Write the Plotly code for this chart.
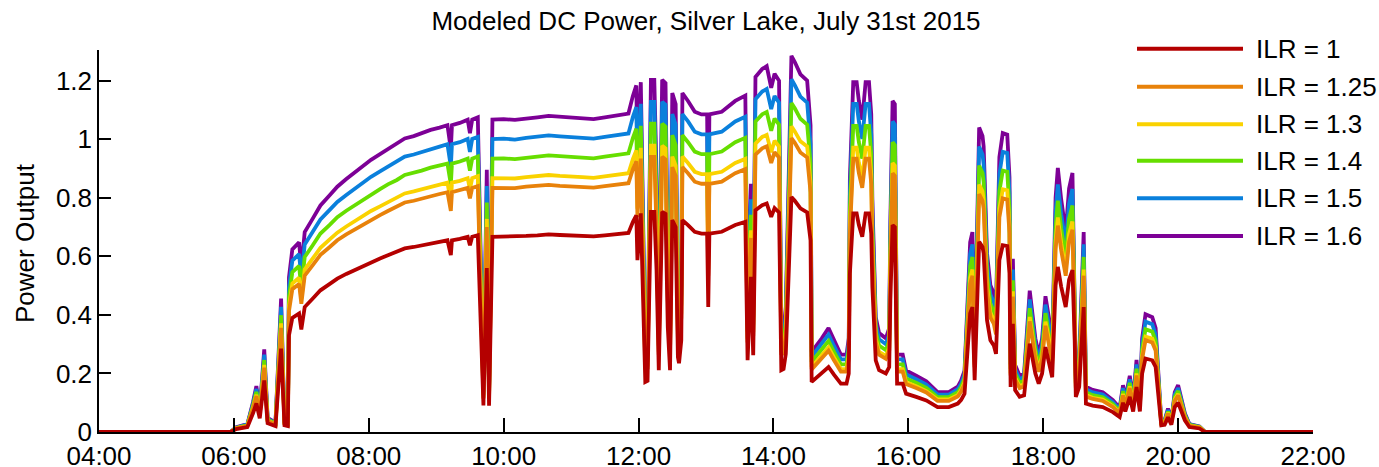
import pandas as pd
import plotly.graph_objects as go

times = [
    "04:00", "05:57", "06:02", "06:12", "06:17", "06:20", "06:23", "06:27", "06:30", "06:37",
    "06:42", "06:45", "06:48", "06:49", "06:52", "06:58", "07:00", "07:03", "07:10", "07:17",
    "07:25", "07:32", "07:40", "07:47", "07:55", "08:02", "08:10", "08:17", "08:25", "08:32",
    "08:40", "08:47", "08:55", "09:03", "09:10", "09:13", "09:14", "09:21", "09:28", "09:30",
    "09:32", "09:37", "09:42", "09:45", "09:47", "09:50", "10:00", "10:10", "10:20", "10:30",
    "10:40", "10:50", "11:00", "11:10", "11:20", "11:30", "11:40", "11:51", "11:55", "11:58",
    "11:59", "12:02", "12:06", "12:08", "12:11", "12:14", "12:16", "12:18", "12:21", "12:24",
    "12:26", "12:28", "12:30", "12:33", "12:35", "12:36", "12:38", "12:39", "12:44", "12:50",
    "12:56", "13:01", "13:02", "13:03", "13:14", "13:26", "13:35", "13:37", "13:40", "13:42",
    "13:44", "13:50", "13:54", "13:58", "14:01", "14:05", "14:07", "14:09", "14:11", "14:14",
    "14:16", "14:19", "14:24", "14:30", "14:33", "14:34", "14:38", "14:43", "14:49", "14:54",
    "15:00", "15:05", "15:07", "15:08", "15:11", "15:14", "15:16", "15:19", "15:22", "15:25",
    "15:27", "15:28", "15:31", "15:34", "15:40", "15:43", "15:44", "15:46", "15:48", "15:49",
    "15:50", "15:55", "15:58", "16:07", "16:16", "16:26", "16:36", "16:44", "16:47", "16:50",
    "16:53", "16:55", "16:57", "16:59", "17:03", "17:06", "17:07", "17:10", "17:13", "17:16",
    "17:18", "17:21", "17:24", "17:28", "17:30", "17:31", "17:33", "17:35", "17:39", "17:43",
    "17:48", "17:50", "17:53", "17:56", "17:59", "18:02", "18:05", "18:08", "18:11", "18:13",
    "18:16", "18:20", "18:23", "18:26", "18:28", "18:29", "18:32", "18:34", "18:36", "18:38",
    "18:44", "18:53", "19:02", "19:08", "19:11", "19:13", "19:17", "19:20", "19:23", "19:26",
    "19:28", "19:31", "19:37", "19:40", "19:43", "19:45", "19:48", "19:51", "19:54", "19:57",
    "20:00", "20:03", "20:06", "20:10", "20:19", "20:24", "22:00",
]

ilr_100 = [
    0, 0, 0.01, 0.017, 0.064, 0.098, 0.047, 0.176, 0.03, 0.02,
    0.285, 0.023, 0.02, 0.33, 0.39, 0.405, 0.35, 0.427, 0.455, 0.484,
    0.505, 0.524, 0.54, 0.553, 0.568, 0.581, 0.593, 0.604, 0.615, 0.627,
    0.632, 0.638, 0.645, 0.65, 0.655, 0.604, 0.655, 0.66, 0.667, 0.638,
    0.667, 0.672, 0.091, 0.56, 0.09, 0.667, 0.668, 0.666, 0.67, 0.672,
    0.675, 0.673, 0.672, 0.67, 0.668, 0.672, 0.675, 0.68, 0.718, 0.74,
    0.587, 0.747, 0.171, 0.175, 0.752, 0.752, 0.553, 0.211, 0.752, 0.745,
    0.359, 0.211, 0.724, 0.70, 0.256, 0.235, 0.313, 0.724, 0.707, 0.684,
    0.678, 0.678, 0.427, 0.678, 0.684, 0.707, 0.718, 0.245, 0.53, 0.262,
    0.758, 0.775, 0.781, 0.735, 0.765, 0.75, 0.211, 0.215, 0.267, 0.543,
    0.803, 0.79, 0.764, 0.75, 0.655, 0.171, 0.184, 0.2, 0.222, 0.195,
    0.165, 0.165, 0.2, 0.541, 0.747, 0.747, 0.707, 0.667, 0.747, 0.747,
    0.678, 0.496, 0.245, 0.211, 0.2, 0.222, 0.45, 0.707, 0.70, 0.43,
    0.165, 0.165, 0.131, 0.12, 0.108, 0.085, 0.085, 0.097, 0.11, 0.131,
    0.313, 0.405, 0.427, 0.177, 0.65, 0.632, 0.61, 0.382, 0.313, 0.296,
    0.267, 0.587, 0.638, 0.635, 0.543, 0.154, 0.37, 0.143, 0.12, 0.125,
    0.302, 0.255, 0.2, 0.165, 0.2, 0.29, 0.245, 0.187, 0.5, 0.564,
    0.496, 0.427, 0.52, 0.553, 0.313, 0.12, 0.154, 0.29, 0.427, 0.097,
    0.09, 0.085, 0.068, 0.051, 0.1, 0.07, 0.12, 0.07, 0.154, 0.07,
    0.2, 0.251, 0.245, 0.222, 0.085, 0.023, 0.025, 0.05, 0.025, 0.085,
    0.1, 0.07, 0.04, 0.017, 0.012, 0, 0,
]

ilr_125 = [
    0, 0, 0.013, 0.021, 0.08, 0.123, 0.059, 0.22, 0.038, 0.025,
    0.356, 0.029, 0.025, 0.413, 0.488, 0.506, 0.438, 0.534, 0.569, 0.605,
    0.631, 0.655, 0.675, 0.691, 0.71, 0.726, 0.741, 0.755, 0.769, 0.784,
    0.79, 0.798, 0.806, 0.813, 0.819, 0.755, 0.819, 0.825, 0.834, 0.798,
    0.834, 0.84, 0.114, 0.7, 0.113, 0.834, 0.835, 0.833, 0.838, 0.84,
    0.844, 0.841, 0.84, 0.838, 0.835, 0.84, 0.844, 0.85, 0.898, 0.925,
    0.734, 0.934, 0.214, 0.219, 0.94, 0.94, 0.691, 0.264, 0.94, 0.931,
    0.449, 0.264, 0.905, 0.875, 0.32, 0.294, 0.391, 0.905, 0.884, 0.855,
    0.848, 0.848, 0.534, 0.848, 0.855, 0.884, 0.898, 0.306, 0.663, 0.328,
    0.948, 0.969, 0.976, 0.919, 0.956, 0.938, 0.264, 0.269, 0.334, 0.679,
    1.004, 0.988, 0.955, 0.938, 0.819, 0.214, 0.23, 0.25, 0.278, 0.244,
    0.206, 0.206, 0.25, 0.676, 0.934, 0.934, 0.884, 0.834, 0.934, 0.934,
    0.848, 0.62, 0.306, 0.264, 0.25, 0.278, 0.563, 0.884, 0.875, 0.538,
    0.206, 0.206, 0.164, 0.15, 0.135, 0.106, 0.106, 0.121, 0.138, 0.164,
    0.391, 0.506, 0.534, 0.221, 0.813, 0.79, 0.763, 0.478, 0.391, 0.37,
    0.334, 0.734, 0.798, 0.794, 0.679, 0.193, 0.463, 0.179, 0.15, 0.156,
    0.378, 0.319, 0.25, 0.206, 0.25, 0.363, 0.306, 0.234, 0.625, 0.705,
    0.62, 0.534, 0.65, 0.691, 0.391, 0.15, 0.193, 0.363, 0.534, 0.121,
    0.113, 0.106, 0.085, 0.064, 0.125, 0.088, 0.15, 0.088, 0.193, 0.088,
    0.25, 0.314, 0.306, 0.278, 0.106, 0.029, 0.031, 0.063, 0.031, 0.106,
    0.125, 0.088, 0.05, 0.021, 0.015, 0, 0,
]

ilr_130 = [
    0, 0, 0.013, 0.022, 0.083, 0.127, 0.061, 0.229, 0.039, 0.026,
    0.371, 0.03, 0.026, 0.429, 0.507, 0.527, 0.455, 0.555, 0.592, 0.629,
    0.657, 0.681, 0.702, 0.719, 0.738, 0.755, 0.771, 0.785, 0.8, 0.815,
    0.822, 0.829, 0.839, 0.845, 0.852, 0.785, 0.852, 0.858, 0.867, 0.829,
    0.867, 0.874, 0.118, 0.728, 0.117, 0.867, 0.868, 0.866, 0.871, 0.874,
    0.878, 0.875, 0.874, 0.871, 0.868, 0.874, 0.878, 0.884, 0.933, 0.962,
    0.763, 0.971, 0.222, 0.228, 0.978, 0.978, 0.719, 0.274, 0.978, 0.969,
    0.467, 0.274, 0.941, 0.91, 0.333, 0.306, 0.407, 0.941, 0.919, 0.889,
    0.881, 0.881, 0.555, 0.881, 0.889, 0.919, 0.933, 0.319, 0.689, 0.341,
    0.985, 1.008, 1.015, 0.956, 0.995, 0.975, 0.274, 0.28, 0.347, 0.706,
    1.044, 1.027, 0.993, 0.975, 0.852, 0.222, 0.239, 0.26, 0.289, 0.254,
    0.215, 0.215, 0.26, 0.703, 0.971, 0.971, 0.919, 0.867, 0.971, 0.971,
    0.881, 0.645, 0.319, 0.274, 0.26, 0.289, 0.585, 0.919, 0.91, 0.559,
    0.215, 0.215, 0.17, 0.156, 0.14, 0.111, 0.111, 0.126, 0.143, 0.17,
    0.407, 0.527, 0.555, 0.23, 0.845, 0.822, 0.793, 0.497, 0.407, 0.385,
    0.347, 0.763, 0.829, 0.826, 0.706, 0.2, 0.481, 0.186, 0.156, 0.163,
    0.393, 0.332, 0.26, 0.215, 0.26, 0.377, 0.319, 0.243, 0.65, 0.733,
    0.645, 0.555, 0.676, 0.719, 0.407, 0.156, 0.2, 0.377, 0.555, 0.126,
    0.117, 0.111, 0.088, 0.066, 0.13, 0.091, 0.156, 0.091, 0.2, 0.091,
    0.26, 0.326, 0.319, 0.289, 0.111, 0.03, 0.033, 0.065, 0.033, 0.111,
    0.13, 0.091, 0.052, 0.022, 0.016, 0, 0,
]

ilr_140 = [
    0, 0, 0.014, 0.024, 0.09, 0.137, 0.066, 0.246, 0.042, 0.028,
    0.399, 0.032, 0.028, 0.462, 0.546, 0.567, 0.49, 0.598, 0.637, 0.678,
    0.707, 0.734, 0.756, 0.774, 0.795, 0.813, 0.83, 0.846, 0.861, 0.878,
    0.885, 0.893, 0.903, 0.91, 0.917, 0.846, 0.917, 0.924, 0.934, 0.893,
    0.934, 0.941, 0.127, 0.784, 0.126, 0.934, 0.935, 0.932, 0.938, 0.941,
    0.945, 0.942, 0.941, 0.938, 0.935, 0.941, 0.945, 0.952, 1.005, 1.036,
    0.822, 1.046, 0.239, 0.245, 1.053, 1.053, 0.774, 0.295, 1.053, 1.043,
    0.503, 0.295, 1.014, 0.98, 0.358, 0.329, 0.438, 1.014, 0.99, 0.958,
    0.949, 0.949, 0.598, 0.949, 0.958, 0.99, 1.005, 0.343, 0.742, 0.367,
    1.061, 1.085, 1.093, 1.029, 1.071, 1.05, 0.295, 0.301, 0.374, 0.76,
    1.124, 1.106, 1.07, 1.05, 0.917, 0.239, 0.258, 0.28, 0.311, 0.273,
    0.231, 0.231, 0.28, 0.757, 1.046, 1.046, 0.99, 0.934, 1.046, 1.046,
    0.949, 0.694, 0.343, 0.295, 0.28, 0.311, 0.63, 0.99, 0.98, 0.602,
    0.231, 0.231, 0.183, 0.168, 0.151, 0.119, 0.119, 0.136, 0.154, 0.183,
    0.438, 0.567, 0.598, 0.248, 0.91, 0.885, 0.854, 0.535, 0.438, 0.414,
    0.374, 0.822, 0.893, 0.889, 0.76, 0.216, 0.518, 0.2, 0.168, 0.175,
    0.423, 0.357, 0.28, 0.231, 0.28, 0.406, 0.343, 0.262, 0.7, 0.79,
    0.694, 0.598, 0.728, 0.774, 0.438, 0.168, 0.216, 0.406, 0.598, 0.136,
    0.126, 0.119, 0.095, 0.071, 0.14, 0.098, 0.168, 0.098, 0.216, 0.098,
    0.28, 0.351, 0.343, 0.311, 0.119, 0.032, 0.035, 0.07, 0.035, 0.119,
    0.14, 0.098, 0.056, 0.024, 0.017, 0, 0,
]

ilr_150 = [
    0, 0, 0.015, 0.026, 0.096, 0.147, 0.071, 0.264, 0.045, 0.03,
    0.428, 0.035, 0.03, 0.495, 0.585, 0.608, 0.525, 0.641, 0.683, 0.726,
    0.758, 0.786, 0.81, 0.83, 0.852, 0.872, 0.89, 0.906, 0.923, 0.941,
    0.948, 0.957, 0.968, 0.975, 0.983, 0.906, 0.983, 0.99, 1.001, 0.957,
    1.001, 1.008, 0.137, 0.84, 0.135, 1.001, 1.002, 0.999, 1.005, 1.008,
    1.013, 1.01, 1.008, 1.005, 1.002, 1.008, 1.013, 1.02, 1.077, 1.11,
    0.881, 1.121, 0.257, 0.263, 1.128, 1.128, 0.83, 0.317, 1.128, 1.118,
    0.539, 0.317, 1.086, 1.05, 0.384, 0.353, 0.47, 1.086, 1.061, 1.026,
    1.017, 1.017, 0.641, 1.017, 1.026, 1.061, 1.077, 0.368, 0.795, 0.393,
    1.137, 1.163, 1.172, 1.103, 1.148, 1.125, 0.317, 0.323, 0.401, 0.815,
    1.205, 1.185, 1.146, 1.125, 0.983, 0.257, 0.276, 0.3, 0.333, 0.293,
    0.248, 0.248, 0.3, 0.812, 1.121, 1.121, 1.061, 1.001, 1.121, 1.121,
    1.017, 0.744, 0.368, 0.317, 0.3, 0.333, 0.675, 1.061, 1.05, 0.645,
    0.248, 0.248, 0.197, 0.18, 0.162, 0.128, 0.128, 0.146, 0.165, 0.197,
    0.47, 0.608, 0.641, 0.266, 0.975, 0.948, 0.915, 0.573, 0.47, 0.444,
    0.401, 0.881, 0.957, 0.953, 0.815, 0.231, 0.555, 0.215, 0.18, 0.188,
    0.453, 0.383, 0.3, 0.248, 0.3, 0.435, 0.368, 0.281, 0.75, 0.846,
    0.744, 0.641, 0.78, 0.83, 0.47, 0.18, 0.231, 0.435, 0.641, 0.146,
    0.135, 0.128, 0.102, 0.077, 0.15, 0.105, 0.18, 0.105, 0.231, 0.105,
    0.3, 0.377, 0.368, 0.333, 0.128, 0.035, 0.038, 0.075, 0.038, 0.128,
    0.15, 0.105, 0.06, 0.026, 0.018, 0, 0,
]

ilr_160 = [
    0, 0, 0.016, 0.027, 0.102, 0.157, 0.075, 0.282, 0.048, 0.032,
    0.456, 0.037, 0.032, 0.528, 0.624, 0.648, 0.56, 0.683, 0.728, 0.774,
    0.808, 0.838, 0.864, 0.885, 0.909, 0.93, 0.949, 0.966, 0.984, 1.003,
    1.011, 1.021, 1.032, 1.04, 1.048, 0.966, 1.048, 1.056, 1.067, 1.021,
    1.067, 1.075, 0.146, 0.896, 0.144, 1.067, 1.069, 1.066, 1.072, 1.075,
    1.08, 1.077, 1.075, 1.072, 1.069, 1.075, 1.08, 1.088, 1.149, 1.184,
    0.939, 1.195, 0.274, 0.28, 1.203, 1.203, 0.885, 0.338, 1.203, 1.192,
    0.574, 0.338, 1.158, 1.12, 0.41, 0.376, 0.501, 1.158, 1.131, 1.094,
    1.085, 1.085, 0.683, 1.085, 1.094, 1.131, 1.149, 0.392, 0.848, 0.419,
    1.213, 1.24, 1.25, 1.176, 1.224, 1.2, 0.338, 0.344, 0.427, 0.869,
    1.285, 1.264, 1.222, 1.2, 1.048, 0.274, 0.294, 0.32, 0.355, 0.312,
    0.264, 0.264, 0.32, 0.866, 1.195, 1.195, 1.131, 1.067, 1.195, 1.195,
    1.085, 0.794, 0.392, 0.338, 0.32, 0.355, 0.72, 1.131, 1.12, 0.688,
    0.264, 0.264, 0.21, 0.192, 0.173, 0.136, 0.136, 0.155, 0.176, 0.21,
    0.501, 0.648, 0.683, 0.283, 1.04, 1.011, 0.976, 0.611, 0.501, 0.474,
    0.427, 0.939, 1.021, 1.016, 0.869, 0.246, 0.592, 0.229, 0.192, 0.2,
    0.483, 0.408, 0.32, 0.264, 0.32, 0.464, 0.392, 0.299, 0.8, 0.902,
    0.794, 0.683, 0.832, 0.885, 0.501, 0.192, 0.246, 0.464, 0.683, 0.155,
    0.144, 0.136, 0.109, 0.082, 0.16, 0.112, 0.192, 0.112, 0.246, 0.112,
    0.32, 0.402, 0.392, 0.355, 0.136, 0.037, 0.04, 0.08, 0.04, 0.136,
    0.16, 0.112, 0.064, 0.027, 0.019, 0, 0,
]

series_names = ["ILR = 1", "ILR = 1.25", "ILR = 1.3", "ILR = 1.4", "ILR = 1.5", "ILR = 1.6"]
series_values = [ilr_100, ilr_125, ilr_130, ilr_140, ilr_150, ilr_160]
colors = ["#B40000", "#E8820A", "#FAD200", "#66DE00", "#0A80DC", "#7D0096"]

x_tick_labels = ["04:00", "06:00", "08:00", "10:00", "12:00", "14:00", "16:00", "18:00", "20:00", "22:00"]
y_tick_vals = [0, 0.2, 0.4, 0.6, 0.8, 1, 1.2]
y_tick_text = ["0", "0.2", "0.4", "0.6", "0.8", "1", "1.2"]

day = "2015-07-31 "
x = pd.to_datetime([day + t for t in times])
tickvals = pd.to_datetime([day + t for t in x_tick_labels])

FONT = "Liberation Sans, Arial, Helvetica, sans-serif"
FS = 26
W, H = 1379, 467
L, R, T, B = 99, 66, 50, 35

fig = go.Figure()
# draw highest ILR first so ILR = 1 ends up on top
for name, vals, col in reversed(list(zip(series_names, series_values, colors))):
    fig.add_trace(go.Scatter(
        x=x, y=vals, name=name, mode="lines",
        line=dict(color=col, width=3.8),
        showlegend=False, hoverinfo="x+y+name",
    ))

# manual legend (long line samples as in the reference)
plot_w = W - L - R
plot_h = H - T - B
leg_x0, leg_x1, leg_tx = 1137, 1243, 1254
leg_rows = [48.7, 86.7, 124.3, 160.8, 198.3, 236.0]
shapes = []
annotations = []
for name, col, py in zip(series_names, colors, leg_rows):
    yp = (H - B - py) / plot_h
    shapes.append(dict(type="line", xref="paper", yref="paper",
                       x0=(leg_x0 - L) / plot_w, x1=(leg_x1 - L) / plot_w,
                       y0=yp, y1=yp, line=dict(color=col, width=4)))
    annotations.append(dict(xref="paper", yref="paper", x=(leg_tx - L) / plot_w, y=yp,
                            text=name, showarrow=False, xanchor="left", yanchor="middle",
                            font=dict(family=FONT, size=FS, color="#000000")))

annotations.append(dict(xref="paper", yref="paper", x=(25 - L) / plot_w, y=(H - B - 243) / plot_h,
                        text="Power Output", showarrow=False, textangle=-90,
                        xanchor="center", yanchor="middle",
                        font=dict(family=FONT, size=FS, color="#000000")))

fig.update_layout(
    width=W, height=H,
    margin=dict(l=L, r=R, t=T, b=B, autoexpand=False),
    paper_bgcolor="white", plot_bgcolor="white",
    font=dict(family=FONT, size=FS, color="#000000"),
    title=dict(text="Modeled DC Power, Silver Lake, July 31st 2015",
               x=0.5, xref="paper", xanchor="center",
               y=1 - 21 / H, yref="container", yanchor="middle",
               font=dict(family=FONT, size=FS, color="#000000")),
    shapes=shapes,
    annotations=annotations,
    showlegend=False,
)

fig.update_xaxes(
    range=[pd.Timestamp(day + "04:00"), pd.Timestamp(day + "22:00")],
    tickvals=tickvals, ticktext=x_tick_labels,
    ticks="inside", ticklen=14, tickwidth=1.5, tickcolor="#000000",
    showline=True, linecolor="#000000", linewidth=1.5,
    showgrid=False, zeroline=False, automargin=False,
    ticklabelstandoff=0,
    tickfont=dict(family=FONT, size=FS, color="#000000"),
)
fig.update_yaxes(
    range=[0, 1.305],
    tickvals=y_tick_vals, ticktext=y_tick_text,
    ticks="inside", ticklen=12, tickwidth=1.5, tickcolor="#000000",
    showline=True, linecolor="#000000", linewidth=1.5,
    showgrid=False, zeroline=False, automargin=False,
    ticklabelstandoff=0,
    tickfont=dict(family=FONT, size=FS, color="#000000"),
)

fig.write_html("out.html")
